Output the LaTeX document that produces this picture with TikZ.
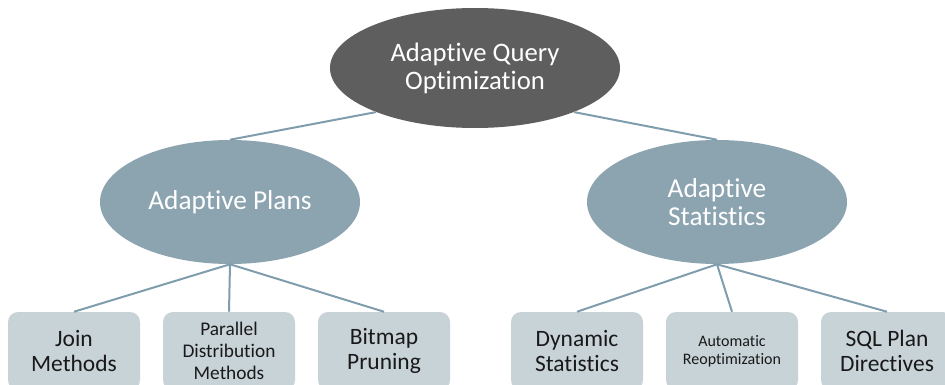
\documentclass[tikz,border=0pt]{standalone}
\usepackage{fontspec}
\setmainfont{Carlito}[Ligatures={NoCommon,NoRequired,NoContextual}]
\usepackage{xcolor}
\usetikzlibrary{shapes.geometric}

\definecolor{rootgray}{HTML}{5E5E5E}
\definecolor{midblue}{HTML}{8CA4B0}
\definecolor{leafgray}{HTML}{C8D3D7}
\definecolor{linkblue}{HTML}{7F9DAD}

\begin{document}
\begin{tikzpicture}[x=0.75pt,y=-0.75pt,
  root/.style={ellipse,fill=rootgray,text=white,inner sep=0,minimum width=217.5pt,minimum height=90pt,align=center,font=\fontsize{20}{21}\selectfont},
  mid/.style={ellipse,fill=midblue,text=white,inner sep=0,minimum width=195pt,minimum height=93pt,align=center,font=\fontsize{20.5}{21}\selectfont},
  leaf/.style={rounded corners=7.5pt,fill=leafgray,text=black!90,inner sep=0,minimum width=99pt,minimum height=58.5pt,align=center,font=\fontsize{17.6}{18.75}\selectfont},
  link/.style={draw=linkblue,line width=1.5pt}]
\useasboundingbox (0,0) rectangle (945,385);
\node[root] (aqo) at (475,68) {Adaptive Query\\Optimization};
\node[mid] (plans) at (230,202) {Adaptive Plans};
\node[mid] (stats) at (717,202) {Adaptive\\Statistics};
\node[leaf] (join) at (74,351) {Join\\Methods};
\node[leaf,font=\fontsize{14.5}{16.25}\selectfont] (pdm) at (229,351) {Parallel\\Distribution\\Methods};
\node[leaf] (bitmap) at (384,351) {Bitmap\\Pruning};
\node[leaf] (dyn) at (577,351) {Dynamic\\Statistics};
\node[leaf,font=\fontsize{12}{13.5}\selectfont] (reopt) at (732,351) {Automatic\\Reoptimization};
\node[leaf] (spd) at (887,351) {SQL Plan\\Directives};
\draw[link] (aqo.204) -- (plans.north);
\draw[link] (aqo.336) -- (stats.north);
\draw[link] (plans.south) -- (join.north);
\draw[link] (plans.south) -- (pdm.north);
\draw[link] (plans.south) -- (bitmap.north);
\draw[link] (stats.south) -- (dyn.north);
\draw[link] (stats.south) -- (reopt.north);
\draw[link] (stats.south) -- (spd.north);
\end{tikzpicture}
\end{document}
